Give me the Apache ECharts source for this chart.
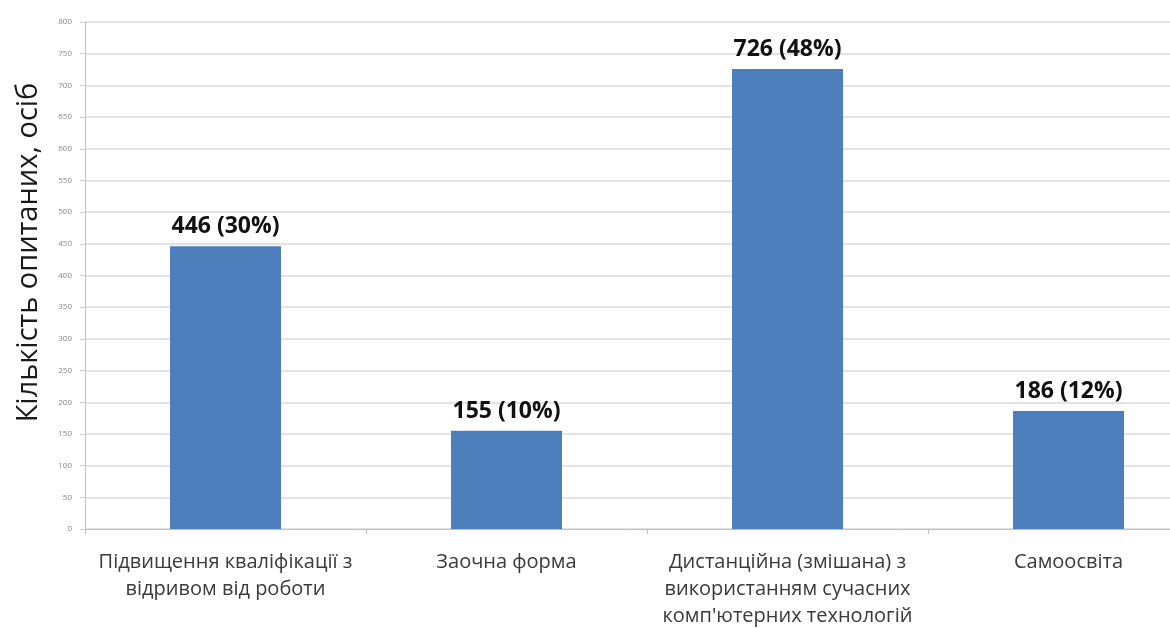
<!DOCTYPE html>
<html>
<head>
<meta charset="utf-8">
<script src="https://cdn.jsdelivr.net/npm/echarts@6/dist/echarts.min.js"></script>
<style>
  html, body { margin: 0; padding: 0; background: #fff; }
  #chart { width: 1170px; height: 628px; }
</style>
</head>
<body>
<div id="chart"></div>
<script>
// дані з діаграми
var categories = [
    'Підвищення кваліфікації з\nвідривом від роботи',
    'Заочна форма',
    'Дистанційна (змішана) з\nвикористанням сучасних\nкомп\'ютерних технологій',
    'Самоосвіта'
];
var counts = [446, 155, 726, 186];
var percents = ['30%', '10%', '48%', '12%'];
var yTicks = { min: 0, max: 800, step: 50 };
var yTitle = 'Кількість опитаних, осіб';

var myChart = echarts.init(document.getElementById('chart'));

var option = {
    animation: false,
    grid: {
        left: 85,
        top: 22,
        bottom: 99,
        width: 1124,
        containLabel: false,
        outerBoundsMode: 'none'
    },
    xAxis: {
        type: 'category',
        data: categories,
        axisLine: { show: true, lineStyle: { color: '#bfbfbf', width: 1 } },
        axisTick: { show: true, alignWithLabel: false, length: 5, lineStyle: { color: '#bfbfbf' } },
        axisLabel: {
            interval: 0,
            margin: 20,
            color: '#3a3a3a',
            fontFamily: 'Open Sans',
            fontSize: 20,
            lineHeight: 27
        }
    },
    yAxis: {
        type: 'value',
        min: yTicks.min,
        max: yTicks.max,
        interval: yTicks.step,
        name: yTitle,
        nameLocation: 'middle',
        nameGap: 42,
        nameRotate: 90,
        nameTextStyle: {
            color: '#1a1a1a',
            fontFamily: 'Open Sans',
            fontSize: 29,
            padding: [0, 0, 0, 46]
        },
        axisLine: { show: true, lineStyle: { color: '#bfbfbf', width: 1 } },
        axisTick: { show: true, length: 5, lineStyle: { color: '#d0d0d0' } },
        axisLabel: {
            margin: 13,
            color: '#888',
            fontFamily: 'Open Sans',
            fontSize: 8
        },
        splitLine: { show: true, lineStyle: { color: '#dadada', width: 1.5 } }
    },
    series: [
        {
            type: 'bar',
            data: counts,
            barWidth: 111,
            itemStyle: { color: '#4c7fbc' },
            label: {
                show: true,
                position: 'top',
                distance: 8,
                color: '#111',
                fontFamily: 'Open Sans',
                fontWeight: 'bold',
                fontSize: 23,
                formatter: function (p) {
                    return p.value + ' (' + percents[p.dataIndex] + ')';
                }
            }
        }
    ]
};

myChart.setOption(option);
</script>
</body>
</html>
